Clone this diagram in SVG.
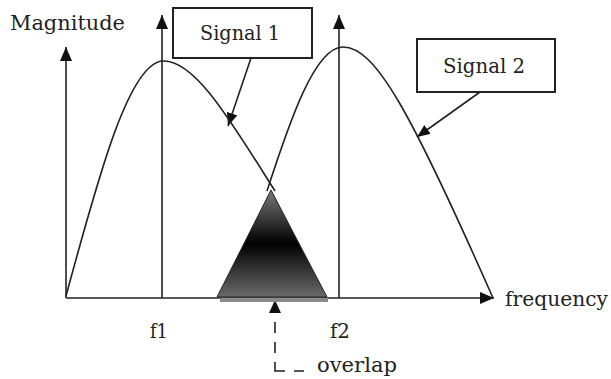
<svg xmlns="http://www.w3.org/2000/svg" width="611" height="379" viewBox="0 0 611 379">
  <defs>
    <style>
      .ln { fill: none; stroke: #222; stroke-width: 1.6; }
      .box { fill: #fff; stroke: #222; stroke-width: 2; }
      .txt { font-family: "DejaVu Serif", "Liberation Serif", serif; font-size: 20px; fill: #222; }
    </style>
    <marker id="ah" markerUnits="userSpaceOnUse" markerWidth="16" markerHeight="14" refX="14" refY="6" orient="auto">
      <path d="M0,0 L14,6 L0,12 Z" fill="#111"/>
    </marker>
    <marker id="ahs" markerUnits="userSpaceOnUse" markerWidth="14" markerHeight="12" refX="13" refY="5.5" orient="auto">
      <path d="M0,0 L13,5.5 L0,11 Z" fill="#111"/>
    </marker>
    <linearGradient id="tri" x1="0" y1="0" x2="0" y2="1">
      <stop offset="0" stop-color="#7a7a7a"/>
      <stop offset="0.5" stop-color="#000"/>
      <stop offset="1" stop-color="#6a6a6a"/>
    </linearGradient>
  </defs>
  <rect width="611" height="379" fill="#fff"/>

  <g id="connectors">
    <!-- axes -->
    <line class="ln" x1="66" y1="298" x2="66" y2="47" marker-end="url(#ah)"/>
    <line class="ln" x1="66" y1="298" x2="494" y2="298" marker-end="url(#ah)"/>
    <line class="ln" x1="162" y1="298" x2="162" y2="15" marker-end="url(#ah)"/>
    <line class="ln" x1="339" y1="298" x2="339" y2="15" marker-end="url(#ah)"/>
    <!-- label pointers -->
    <line class="ln" x1="251" y1="58" x2="228" y2="126" marker-end="url(#ahs)"/>
    <line class="ln" x1="480" y1="92" x2="417" y2="137" marker-end="url(#ahs)"/>
    <!-- overlap pointer -->
    <path class="ln" stroke-width="2" d="M275,322V333 M275,342V353 M275,362V371H285 M294,371H304"/>
    <polygon points="275,300 269,313 281,313" fill="#111"/>
  </g>

  <g id="overlap-area">
    <rect x="220" y="298" width="108" height="4" fill="#8a8a8a"/>
    <polygon points="271,190 217,297 327,297" fill="url(#tri)" stroke="#222" stroke-width="1"/>
  </g>

  <g id="signal1-curve">
    <path class="ln" d="M66,296 C100,170 130,62 163,61 C195,60 230,120 275,191"/>
  </g>
  <g id="signal2-curve">
    <path class="ln" d="M267,191 C290,120 315,47 343,47 C375,47 410,110 493,298"/>
  </g>

  <g id="signal1">
    <rect class="box" x="173" y="8" width="139" height="50"/>
    <text class="txt" x="200" y="40" textLength="80" lengthAdjust="spacingAndGlyphs">Signal 1</text>
  </g>
  <g id="signal2">
    <rect class="box" x="417" y="39" width="138" height="53"/>
    <text class="txt" x="443" y="73" textLength="82" lengthAdjust="spacingAndGlyphs">Signal 2</text>
  </g>

  <g id="labels">
    <text class="txt" x="10" y="30" textLength="115" lengthAdjust="spacingAndGlyphs">Magnitude</text>
    <text class="txt" x="505" y="306" textLength="103" lengthAdjust="spacingAndGlyphs">frequency</text>
    <text class="txt" x="150" y="338" textLength="18" lengthAdjust="spacingAndGlyphs">f1</text>
    <text class="txt" x="330" y="338" textLength="20" lengthAdjust="spacingAndGlyphs">f2</text>
    <text class="txt" x="317" y="372" textLength="80" lengthAdjust="spacingAndGlyphs">overlap</text>
  </g>
</svg>
